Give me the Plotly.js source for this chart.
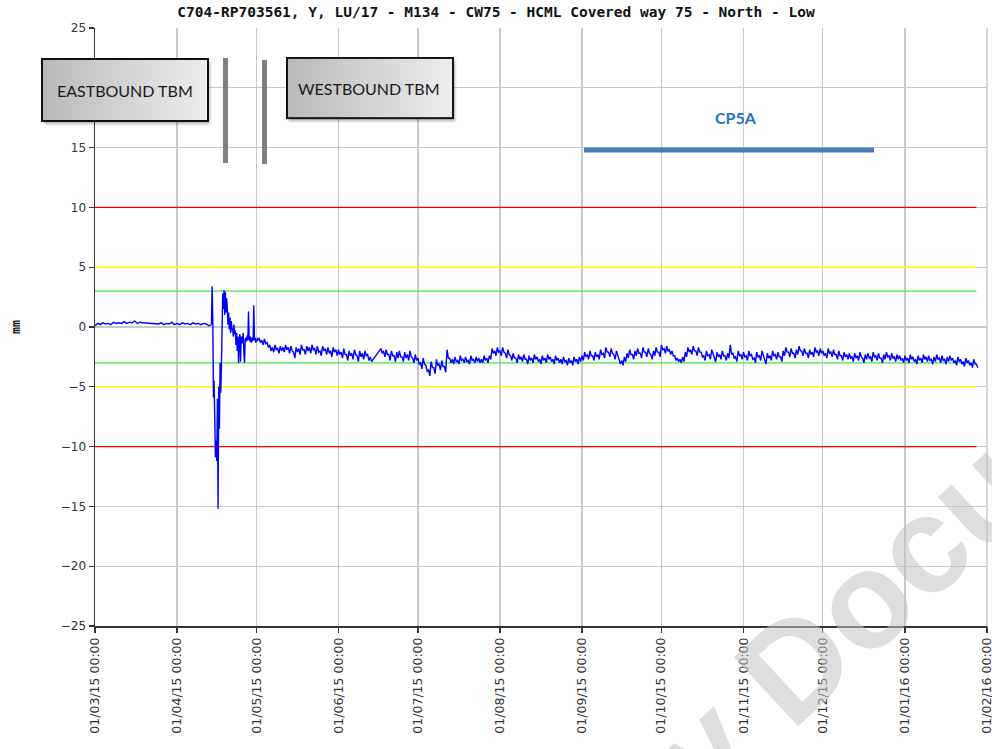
<!DOCTYPE html>
<html>
<head>
<meta charset="utf-8">
<script src="https://cdn.plot.ly/plotly-3.0.1.min.js"></script>
<style>
  html, body { margin: 0; padding: 0; background: #fff; }
  #chart { width: 992px; height: 749px; }
</style>
</head>
<body>
<div id="chart"></div>
<script>
// ---------------- DATA ----------------
const chartTitle = "C704-RP703561, Y, LU/17 - M134 - CW75 - HCML Covered way 75 - North - Low";
const yAxisTitle = "mm";

// Month ticks on the x axis
const tickDates = ["2015-03-01","2015-04-01","2015-05-01","2015-06-01","2015-07-01","2015-08-01",
                   "2015-09-01","2015-10-01","2015-11-01","2015-12-01","2016-01-01","2016-02-01"];
const yTicks = [-25,-20,-15,-10,-5,0,5,10,15,20,25];
const yTickText = ["\u221225","\u221220","\u221215","\u221210","\u22125","0","5","10","15","","25"]; // 20 is hidden behind the label box

// Readings before the TBM passage: daily, 01/03/15 .. 14/04/15
const preStart = "2015-03-01";
const preVals = [0.1, 0.3, 0.2, 0.35, 0.25, 0.3, 0.2, 0.4, 0.3, 0.35,
                 0.3, 0.45, 0.3, 0.4, 0.35, 0.5, 0.3, 0.4, 0.35,
                 null, null, null, null, 0.3,
                 0.25, 0.35, 0.2, 0.3, 0.25, 0.4, 0.2,
                 0.3, 0.2, 0.35, 0.25, 0.3, 0.2, 0.35, 0.25, 0.3, 0.2, 0.3, 0.25, 0.1, 0.2];

// Readings during the TBM passage: every 6 hours, 14/04/15 .. 02/05/15
const spikeStart = "2015-04-14";
const spikeVals = [0.2, 3.4, 0.5, -5.9,
                   -4.5, -8.0, -10.9, -9.5,
                   -11.2, -6.0, -15.2, -5.0,
                   -8.5, -3.0, -5.5, -3.5,
                   -1.0, 2.8, 1.5, 3.1,
                   1.0, 2.9, 1.2, 2.4,
                   1.5, 0.2, 1.2, -0.2,
                   0.8, -0.5, 0.5, -0.3,
                   -0.1, -0.8, 0.2, -0.6,
                   -0.3, -1.5, -0.5, -2.0,
                   -0.8, -3.0, -1.0, -0.6,
                   -2.9, -0.8, -1.4, -1.0,
                   -0.5, -2.2, -3.0, -1.0,
                   -0.9, -1.2, -0.7, -1.1,
                   1.3, -1.0, -1.2, -0.8,
                   -1.3, -0.9, -1.2, -1.0,
                   1.8, -1.1, -0.9, -1.3,
                   -1.0, -1.2, -0.9, -1.1,
                   -1.0];

// Readings after the passage: every 12 hours, 02/05/15 .. 28/01/16
const postStart = "2015-05-02";
const mayVals = [-0.9,-1.3, -1.1,-1.5, -1.0,-1.4, -1.3,-1.7, -1.5,-2.0, -1.7,-2.1, -1.5,-1.9, -1.8,-2.2, -1.6,-2.0, -1.7,-2.1,
                 -1.5,-1.9, -1.7,-2.2, -1.6,-2.0, -2.1,-2.6, -1.7,-2.1, -1.8,-2.3, -1.5,-1.9, -1.9,-2.3, -1.6,-2.0, -1.7,-2.2,
                 -1.5,-1.9, -1.8,-2.3, -1.6,-2.1, -2.0,-2.4, -1.6,-2.0, -1.8,-2.3, -1.7,-2.2, -2.0,-2.5, -1.7,-2.1, -1.9,-2.4];
const junVals = [-1.9,-2.3, -2.1,-2.6, -1.8,-2.3, -2.3,-2.8, -2.0,-2.4, -2.2,-2.7, -1.9,-2.3, -2.4,-2.9, -2.0,-2.5, -2.2,-2.7,
                 -2.0,-2.4, -2.3,-2.8, -2.5,-2.9,
                 null, null, null, null, null, null,
                 -1.8,-2.2, -2.0,-2.5, -1.9,-2.3, -2.3,-2.8, -2.0,-2.4, -2.4,-2.9, -2.1,-2.6, -2.0,-2.5, -2.5,-2.9, -2.1,-2.6,
                 -2.3,-2.8, -2.0,-2.5, -2.6,-3.0, -2.3,-2.8];
const julVals = [-2.6,-3.1, -3.0,-3.5, -2.6,-3.1, -3.2,-3.7, -3.6,-4.1, -2.9,-3.4, -3.4,-3.9, -2.7,-3.2, -3.1,-3.6, -2.8,-3.3,
                 -3.3,-3.8, -1.9,-2.6,
                 -2.6,-3.0, -2.7,-3.1, -2.5,-2.9, -2.8,-3.1, -2.4,-2.8, -2.7,-3.0, -2.5,-2.9, -2.8,-3.1, -2.4,-2.8, -2.7,-3.0,
                 -2.5,-2.9, -2.6,-3.0, -2.7,-3.0, -2.4,-2.8, -2.6,-3.0, -2.4,-2.7, -1.8,-2.2, -2.0,-2.4, -1.7,-2.1];
const augVals = [-2.0,-2.4, -1.7,-2.1, -2.2,-2.6, -1.9,-2.3, -2.4,-2.8, -2.2,-2.6, -2.6,-3.0, -2.3,-2.7, -2.5,-2.9, -2.3,-2.7,
                 -2.7,-3.1, -2.4,-2.8, -2.6,-3.0, -2.3,-2.7, -2.5,-2.9, -2.7,-3.1, -2.4,-2.8, -2.6,-3.0, -2.3,-2.7, -2.5,-2.9,
                 -2.7,-3.1, -2.4,-2.8, -2.6,-3.0, -2.7,-3.1, -2.5,-2.9, -2.8,-3.2, -2.6,-3.0, -2.8,-3.2, -2.5,-2.9, -2.7,-3.1, -2.5,-2.9];
const sepVals = [-2.4,-2.8, -2.1,-2.5, -2.3,-2.7, -2.0,-2.4, -2.4,-2.8, -2.1,-2.5, -2.3,-2.7, -1.9,-2.3, -2.2,-2.6, -1.7,-2.1,
                 -2.1,-2.5, -1.8,-2.2, -2.3,-2.7, -2.0,-2.4, -2.7,-3.1, -2.8,-3.2, -2.5,-2.9, -2.2,-2.6, -1.9,-2.3, -2.3,-2.7,
                 -2.0,-2.4, -1.8,-2.2, -2.2,-2.6, -1.7,-2.1, -2.1,-2.5, -1.8,-2.2, -2.3,-2.7, -2.0,-2.4, -1.7,-2.1, -2.1,-2.5];
const octVals = [-1.5,-1.9, -1.8,-2.2, -1.6,-2.0, -1.9,-2.3, -2.0,-2.4, -2.4,-2.8, -2.6,-2.9, -2.7,-3.0, -2.5,-2.9, -2.1,-2.5,
                 -1.7,-2.1, -1.9,-2.3, -1.6,-2.0, -2.0,-2.4, -1.7,-2.1, -2.1,-2.5, -2.4,-2.8, -2.0,-2.4, -2.3,-2.7, -1.9,-2.3,
                 -2.5,-2.9, -2.1,-2.5, -2.3,-2.7, -2.0,-2.4, -2.4,-2.8, -2.2,-2.6, -1.5,-2.3, -2.2,-2.6, -2.5,-2.9, -2.0,-2.4, -2.3,-2.7];
const novVals = [-2.1,-2.5, -2.4,-2.8, -2.0,-2.4, -2.3,-2.7, -2.6,-3.0, -2.1,-2.5, -2.4,-2.8, -2.0,-2.4, -2.7,-3.1, -2.2,-2.6,
                 -2.4,-2.8, -2.0,-2.4, -2.3,-2.7, -2.1,-2.5, -2.5,-2.9, -2.0,-2.4, -1.7,-2.1, -2.1,-2.5, -1.8,-2.2, -2.2,-2.6,
                 -1.9,-2.3, -1.6,-2.0, -2.0,-2.4, -1.8,-2.2, -2.2,-2.6, -1.9,-2.3, -2.1,-2.5, -1.7,-2.1, -2.0,-2.4, -1.8,-2.2];
const decVals = [-2.0,-2.4, -2.2,-2.6, -1.8,-2.2, -2.1,-2.5, -1.9,-2.3, -2.3,-2.7, -2.0,-2.4, -2.4,-2.8, -2.1,-2.5, -2.3,-2.7,
                 -2.2,-2.6, -2.5,-2.9, -2.2,-2.6, -2.4,-2.8, -2.1,-2.5, -2.6,-3.0, -2.3,-2.7, -2.2,-2.6, -2.5,-2.9, -2.1,-2.5,
                 -2.4,-2.8, -2.2,-2.6, -2.6,-3.0, -2.3,-2.7, -2.1,-2.5, -2.4,-2.8, -2.2,-2.6, -2.5,-2.9, -2.3,-2.7, -2.4,-2.8, -2.6,-3.0];
const janVals = [-2.4,-2.8, -2.6,-3.0, -2.3,-2.7, -2.5,-2.9, -2.7,-3.1, -2.4,-2.8, -2.6,-3.0, -2.3,-2.7, -2.5,-2.9, -2.4,-2.8,
                 -2.7,-3.1, -2.5,-2.9, -2.3,-2.7, -2.6,-3.0, -2.4,-2.8, -2.7,-3.1, -2.5,-2.9, -2.4,-2.8, -2.6,-3.0, -2.8,-3.2,
                 -2.5,-2.9, -2.7,-3.1, -2.9,-3.3, -2.6,-3.0, -2.8,-3.2, -3.0,-3.4, -2.7,-3.1, -3.1,-3.4];

// Trigger levels
const thresholdSpan = ["2015-03-01", "2016-01-28"];
const thresholdLevels = [10, 5, 3, -3, -5, -10];
const thresholdColors = ["#ff0000", "#ffff00", "#40e840", "#40e840", "#ffff00", "#ff0000"];

// Labels drawn on the chart
const eastLabel = "EASTBOUND TBM";
const westLabel = "WESTBOUND TBM";
const contractLabel = "CP5A";
const watermarkText = "y Document";

// ---------------- BUILD ----------------
const DAY = 86400000;
const HALF_DAY = 43200000;
const SIX_H = 21600000;
const postVals = [].concat(mayVals, junVals, julVals, augVals, sepVals, octVals, novVals, decVals, janVals);

const lineStyle = { color: "#0000ff", width: 1.4 };
const traces = [];

thresholdLevels.forEach((lv, i) => {
  traces.push({
    type: "scatter", mode: "lines",
    x: thresholdSpan, y: [lv, lv],
    line: { color: thresholdColors[i], width: 1.4 },
    hoverinfo: "skip"
  });
});

traces.push({ type: "scatter", mode: "lines", x0: preStart, dx: DAY, y: preVals, connectgaps: true, line: lineStyle });
traces.push({ type: "scatter", mode: "lines", x0: spikeStart, dx: SIX_H, y: spikeVals, connectgaps: true, line: lineStyle });
traces.push({ type: "scatter", mode: "lines", x0: postStart, dx: HALF_DAY, y: postVals, connectgaps: true, line: lineStyle });

// Box graphic (gradient + shadow) for the TBM labels
const boxSvg = "<svg xmlns='http://www.w3.org/2000/svg' width='172' height='68' viewBox='0 0 172 68'>" +
  "<defs><linearGradient id='g' x1='0' x2='1' y1='0' y2='0'>" +
  "<stop offset='0' stop-color='#b9b9b9'/><stop offset='1' stop-color='#ededed'/></linearGradient>" +
  "<filter id='s' x='-10%' y='-10%' width='130%' height='150%'><feGaussianBlur stdDeviation='1.4'/></filter></defs>" +
  "<rect x='3' y='4' width='166' height='62' fill='#000' opacity='0.3' filter='url(#s)'/>" +
  "<rect x='1' y='1' width='166' height='62' fill='url(#g)' stroke='#111' stroke-width='2'/></svg>";
const boxSrc = "data:image/svg+xml;charset=utf-8," + encodeURIComponent(boxSvg);

const layout = {
  width: 992, height: 749,
  margin: { l: 95, r: 5, t: 28, b: 123, pad: 0 },
  paper_bgcolor: "#ffffff", plot_bgcolor: "#ffffff",
  showlegend: false,
  hovermode: false,
  title: {
    text: "<b>" + chartTitle + "</b>",
    font: { family: "DejaVu Sans Mono", size: 14.5, color: "#111" },
    xref: "container", x: 0.5, xanchor: "center",
    yref: "container", y: 1 - 12 / 749, yanchor: "middle"
  },
  xaxis: {
    type: "date",
    range: ["2015-03-01", "2016-02-01"],
    tickmode: "array", tickvals: tickDates,
    tickformat: "%d/%m/%y %H:%M",
    tickangle: -90,
    ticklabeloverflow: "allow",
    tickfont: { family: "DejaVu Sans", size: 12.5, color: "#333" },
    ticks: "outside", ticklen: 5, tickwidth: 1.2, tickcolor: "#333",
    showline: true, linecolor: "#333", linewidth: 1.5,
    showgrid: true, gridcolor: "#c8c8c8", gridwidth: 1.2,
    zeroline: false, fixedrange: true
  },
  yaxis: {
    range: [-25, 25],
    tickmode: "array", tickvals: yTicks, ticktext: yTickText,
    tickfont: { family: "DejaVu Sans", size: 12, color: "#333" },
    ticks: "outside", ticklen: 5, tickwidth: 1.2, tickcolor: "#333",
    showline: true, linecolor: "#333", linewidth: 1.5,
    showgrid: true, gridcolor: "#c8c8c8", gridwidth: 1.2,
    zeroline: false, fixedrange: true,
    title: { text: "<b>" + yAxisTitle + "</b>", font: { family: "DejaVu Sans Mono", size: 11.5, color: "#111" }, standoff: 37 }
  },
  images: [
    { source: boxSrc, xref: "paper", yref: "paper", x: (41 - 95) / 892, y: (626 - 58) / 598,
      sizex: 172 / 892, sizey: 68 / 598, sizing: "stretch", xanchor: "left", yanchor: "top", layer: "above" },
    { source: boxSrc, xref: "paper", yref: "paper", x: (286 - 95) / 892, y: (626 - 57) / 598,
      sizex: 172 / 892, sizey: 66 / 598, sizing: "stretch", xanchor: "left", yanchor: "top", layer: "above" }
  ],
  shapes: [
    // right-hand grid edge (the 01/02/16 grid line)
    { type: "line", xref: "paper", yref: "paper", x0: 1, x1: 1, y0: 0, y1: 1, layer: "below",
      line: { color: "#c8c8c8", width: 1.5 } },
    // bottom tick at 01/02/16
    { type: "line", xref: "paper", yref: "paper", x0: 1, x1: 1, y0: 0, y1: -5 / 598,
      line: { color: "#333", width: 1.2 } },
    { type: "line", xref: "paper", yref: "paper", x0: (225.5 - 95) / 892, x1: (225.5 - 95) / 892,
      y0: (626 - 163) / 598, y1: (626 - 58) / 598, line: { color: "#808080", width: 5 } },
    { type: "line", xref: "paper", yref: "paper", x0: (264.5 - 95) / 892, x1: (264.5 - 95) / 892,
      y0: (626 - 164) / 598, y1: (626 - 60) / 598, line: { color: "#808080", width: 5 } },
    { type: "line", xref: "paper", yref: "paper", x0: (584 - 95) / 892, x1: (874 - 95) / 892,
      y0: (626 - 150) / 598, y1: (626 - 150) / 598, line: { color: "#4a7ebb", width: 5 } }
  ],
  annotations: [
    { text: eastLabel, xref: "paper", yref: "paper", x: (124.5 - 95) / 892, y: (626 - 90) / 598,
      showarrow: false, xanchor: "center", yanchor: "middle",
      font: { family: "Lato", size: 16, color: "#1a1a1a" } },
    { text: westLabel, xref: "paper", yref: "paper", x: (369 - 95) / 892, y: (626 - 88) / 598,
      showarrow: false, xanchor: "center", yanchor: "middle",
      font: { family: "Lato", size: 16, color: "#1a1a1a" } },
    { text: "<b>" + contractLabel + "</b>", xref: "paper", yref: "paper", x: (736 - 95) / 892, y: (626 - 117) / 598,
      showarrow: false, xanchor: "center", yanchor: "middle",
      font: { family: "Lato", size: 16, color: "#1f72bd" } },
    { text: "<b>" + watermarkText + "</b>", xref: "paper", yref: "paper", x: (962 - 95) / 892, y: (626 - 508) / 598,
      showarrow: false, xanchor: "center", yanchor: "middle", textangle: -43,
      font: { family: "Liberation Sans", size: 137, color: "rgba(195,195,195,0.55)" } }
  ]
};

Plotly.newPlot("chart", traces, layout, { staticPlot: true, displayModeBar: false });
</script>
</body>
</html>
